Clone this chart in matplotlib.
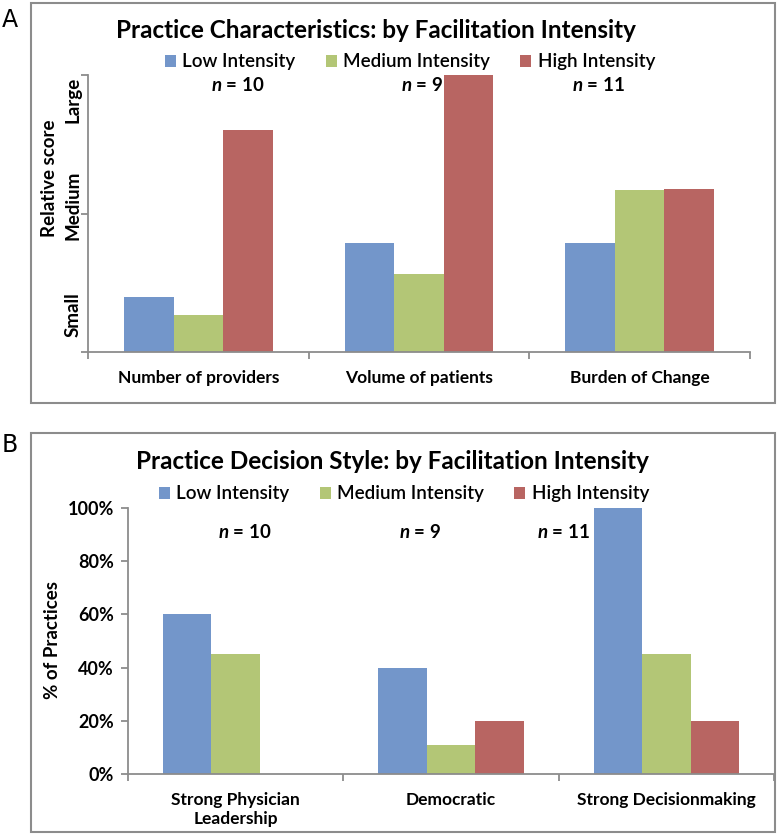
import numpy as np
import matplotlib
matplotlib.use('Agg')
import matplotlib.pyplot as plt
from matplotlib.patches import Rectangle
from matplotlib.ticker import FixedLocator

plt.rcParams['font.family'] = ['Lato', 'DejaVu Sans']
plt.rcParams['mathtext.fontset'] = 'custom'
plt.rcParams['mathtext.it'] = 'Lato:bold:italic'
plt.rcParams['mathtext.rm'] = 'Lato:bold'

# 데이터
series = ['Low Intensity', 'Medium Intensity', 'High Intensity']
colors = ['#7396CA', '#B3C676', '#B86562']
n_labels = ['$n$ = 10', '$n$ = 9', '$n$ = 11']

cats_a = ['Number of providers', 'Volume of patients', 'Burden of Change']
low_a = [0.40, 0.79, 0.79]
med_a = [0.27, 0.56, 1.17]
high_a = [1.60, 2.00, 1.18]

cats_b = ['Strong Physician\nLeadership', 'Democratic', 'Strong Decisionmaking']
low_b = [0.60, 0.40, 1.00]
med_b = [0.45, 0.11, 0.45]
high_b = [0.00, 0.20, 0.20]

W, H = 780, 835
fig = plt.figure(figsize=(W / 100, H / 100), dpi=100)

def fx(px):
    return px / W

def fy(py):
    return 1 - py / H

grey = '#8C8C8C'

# 패널 테두리
for top, bottom in [(3, 403), (433, 832)]:
    fig.patches.append(Rectangle((fx(31), fy(bottom)), fx(775 - 31), (bottom - top) / H,
                                 transform=fig.transFigure, fill=False,
                                 edgecolor=grey, linewidth=1.5))

fig.text(fx(2), fy(20), 'A', fontsize=17, va='center', ha='left', family='DejaVu Sans')
fig.text(fx(2), fy(445), 'B', fontsize=17, va='center', ha='left', family='DejaVu Sans')


def draw_panel(rect, cats, values, ymax, yticks):
    ax = fig.add_axes(rect)
    x = np.arange(len(cats))
    w = 0.225
    bars = []
    for i, (vals, c) in enumerate(zip(values, colors)):
        b = ax.bar(x + (i - 1) * w, vals, width=w, color=c, edgecolor='none')
        bars.append(b)
    ax.set_xlim(-0.5, len(cats) - 0.5)
    ax.set_ylim(0, ymax)
    for s in ['top', 'right']:
        ax.spines[s].set_visible(False)
    for s in ['left', 'bottom']:
        ax.spines[s].set_color(grey)
        ax.spines[s].set_linewidth(1.3)
    ax.set_xticks(np.arange(len(cats) + 1) - 0.5)
    ax.set_xticklabels([])
    ax.xaxis.set_minor_locator(FixedLocator(x))
    ax.set_xticklabels(cats, minor=True, fontsize=12.5, fontweight='bold')
    ax.tick_params(axis='x', which='major', length=5, color=grey, width=1.3)
    ax.tick_params(axis='x', which='minor', length=0, pad=13)
    ax.set_yticks(yticks)
    ax.tick_params(axis='y', which='major', length=5, color=grey, width=1.3)
    return ax, bars


def legend_at(bars, x, y):
    fig.legend(bars, series, loc='center', bbox_to_anchor=(fx(x), fy(y)), ncol=3,
               frameon=False, prop={'size': 13.5, 'weight': 'semibold'},
               handlelength=0.6, handleheight=0.6, handletextpad=0.35,
               columnspacing=1.6, borderaxespad=0)


# 패널 A
axA, barsA = draw_panel([fx(88), fy(352), fx(750 - 88), (352 - 75) / H],
                        cats_a, [low_a, med_a, high_a], 2.0, [0, 1, 2])
axA.set_yticklabels([])
axA.yaxis.set_minor_locator(FixedLocator([0.27, 1.06, 1.82]))
axA.set_yticklabels(['Small', 'Medium', 'Large'], minor=True, rotation=90,
                    va='center', fontsize=13.5, fontweight='bold')
axA.tick_params(axis='y', which='minor', length=0, pad=5)
fig.text(fx(50), fy(178), 'Relative score', rotation=90, fontsize=13.5,
         fontweight='bold', ha='center', va='center')
fig.text(fx(376), fy(30), 'Practice Characteristics: by Facilitation Intensity',
         fontsize=17.5, fontweight='bold', ha='center', va='center')
legend_at(barsA, 410, 62)
for xc, lab in zip([238, 422, 598], n_labels):
    fig.text(fx(xc), fy(85), lab, fontsize=13.5, fontweight='bold', ha='center', va='center')

# 패널 B
axB, barsB = draw_panel([fx(128), fy(774), fx(774 - 128), (774 - 508) / H],
                        cats_b, [low_b, med_b, high_b], 1.0, np.linspace(0, 1, 6))
axB.set_yticklabels([f'{int(round(v * 100))}%' for v in np.linspace(0, 1, 6)],
                    fontsize=13, fontweight='bold')
axB.tick_params(axis='y', pad=5)
fig.text(fx(52), fy(640), '% of Practices', rotation=90, fontsize=13.5,
         fontweight='bold', ha='center', va='center')
fig.text(fx(392), fy(462), 'Practice Decision Style: by Facilitation Intensity',
         fontsize=17.5, fontweight='bold', ha='center', va='center')
legend_at(barsB, 404, 494)
for xc, lab in zip([245, 420, 563], n_labels):
    fig.text(fx(xc), fy(532), lab, fontsize=13.5, fontweight='bold', ha='center', va='center')

fig.savefig('out.png', dpi=100)
